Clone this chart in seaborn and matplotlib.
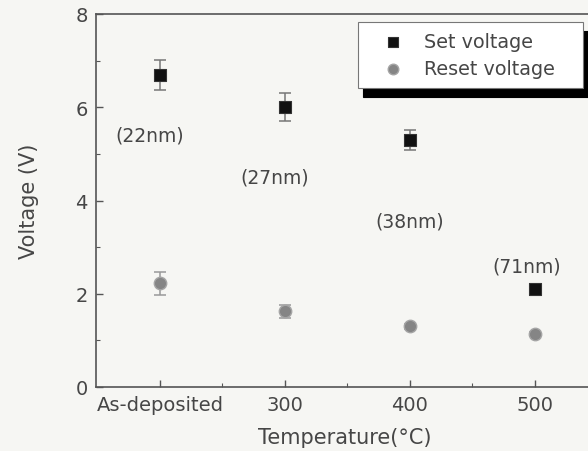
import matplotlib
matplotlib.use("Agg")
import matplotlib.pyplot as plt
from matplotlib.ticker import MultipleLocator, FixedLocator
import numpy as np
import pandas as pd
import seaborn as sns

# Annealing conditions and measured switching voltages
categories = ["As-deposited", "300", "400", "500"]
set_voltage = [6.7, 6.0, 5.3, 2.1]
set_err = [0.32, 0.3, 0.22, 0.0]
reset_voltage = [2.22, 1.62, 1.3, 1.14]
reset_err = [0.25, 0.14, 0.05, 0.05]
thickness_labels = ["(22nm)", "(27nm)", "(38nm)", "(71nm)"]

# placement of the film-thickness notes (data units)
label_dx = [-0.08, -0.08, 0.0, -0.06]
label_y = [5.4, 4.5, 3.55, 2.6]

sns.set_style("ticks")
plt.rcParams["font.family"] = ["DejaVu Sans"]

bg = "#f6f6f3"
txt = "#464646"

pos = np.arange(len(categories))
df = pd.DataFrame({
    "pos": np.concatenate([pos, pos]),
    "voltage": set_voltage + reset_voltage,
    "kind": ["Set voltage"] * len(pos) + ["Reset voltage"] * len(pos),
})

fig = plt.figure(figsize=(5.88, 4.52), dpi=100, facecolor=bg)
ax = fig.add_axes([96 / 588, 64 / 452, 1 - 96 / 588 + 0.01, (388 - 15) / 452])
ax.set_facecolor(bg)

# error bars first so the markers sit on top
ax.errorbar(pos, set_voltage, yerr=set_err, fmt="none", ecolor="#777777",
            elinewidth=1.1, capsize=4, capthick=1.1, zorder=2)
ax.errorbar(pos, reset_voltage, yerr=reset_err, fmt="none", ecolor="#999999",
            elinewidth=1.1, capsize=4, capthick=1.1, zorder=2)

sns.scatterplot(data=df[df.kind == "Set voltage"], x="pos", y="voltage",
                marker="s", s=70, color="#111111", edgecolor="#333333",
                linewidth=0.8, label="Set voltage   ", ax=ax, zorder=3)
sns.scatterplot(data=df[df.kind == "Reset voltage"], x="pos", y="voltage",
                marker="o", s=80, color="#858585", edgecolor="#a5a5a5",
                linewidth=1.0, label="Reset voltage   ", ax=ax, zorder=3)

for p, lab, dx, ly in zip(pos, thickness_labels, label_dx, label_y):
    ax.text(p + dx, ly, lab, ha="center", va="center", fontsize=13.5, color=txt)

ax.set_xlim(-0.512, -0.512 + (588 - 96) / 125 + 0.05)
ax.set_ylim(0, 8)
ax.set_xticks(pos)
ax.set_xticklabels(categories)
ax.xaxis.set_minor_locator(FixedLocator(pos[:-1] + 0.5))
ax.yaxis.set_major_locator(MultipleLocator(2))
ax.yaxis.set_minor_locator(MultipleLocator(1))
ax.tick_params(axis="both", which="major", direction="in", length=5, width=1,
               color="#555555", labelsize=14, labelcolor=txt, pad=6)
ax.tick_params(axis="both", which="minor", direction="in", length=3, width=0.8,
               color="#555555")

for side in ["left", "bottom", "top"]:
    ax.spines[side].set_color("#555555")
    ax.spines[side].set_linewidth(1.2)
ax.spines["right"].set_visible(False)

ax.set_xlabel("Temperature(°C)", fontsize=15, color=txt, labelpad=9)
ax.set_ylabel("Voltage (V)", fontsize=15, color=txt, labelpad=26)

leg = ax.legend(loc="upper left", bbox_to_anchor=(358 / 588, 1 - 23 / 452),
                bbox_transform=fig.transFigure, borderaxespad=0, fontsize=13.8,
                frameon=True, fancybox=False, framealpha=1, edgecolor="#777777",
                borderpad=0.5, labelspacing=0.45, handletextpad=0.25,
                handlelength=2.7, markerscale=0.85,
                shadow={"ox": 3.6, "oy": -6.5, "color": "black", "alpha": 1})
leg.get_frame().set_facecolor("white")
leg.get_frame().set_linewidth(0.8)
for t in leg.get_texts():
    t.set_color(txt)

fig.savefig("out.png", dpi=100, facecolor=bg)
